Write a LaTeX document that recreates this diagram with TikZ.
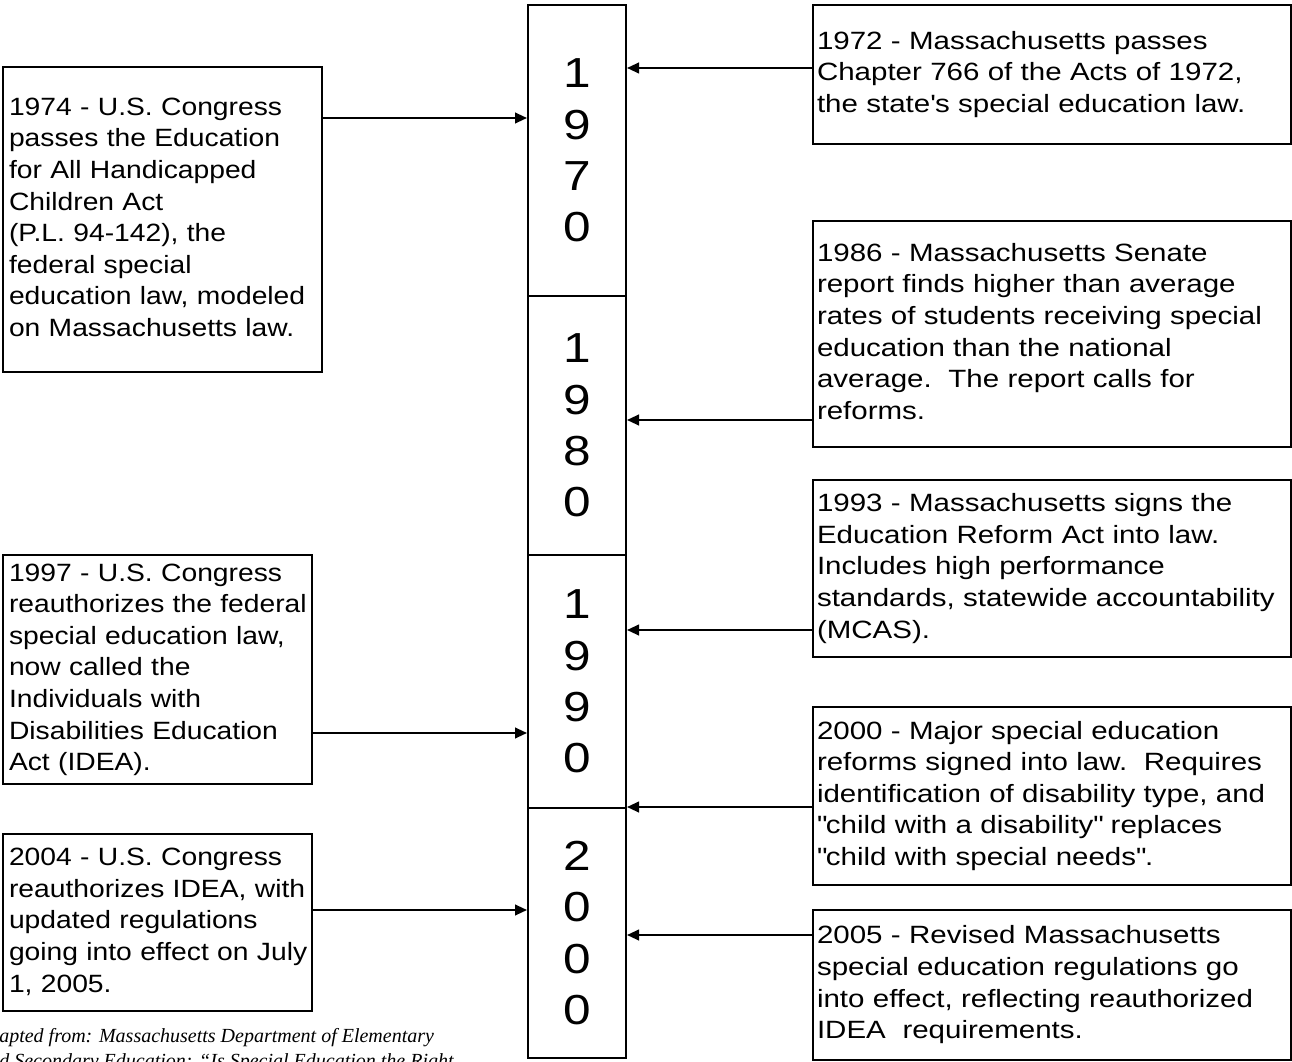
\documentclass[tikz,border=0pt]{standalone}
\usepackage{fontspec}
\setmainfont[FakeStretch=1.18]{Liberation Sans}
\newfontfamily\fedfont[FakeStretch=1.13]{Liberation Sans}
\newfontfamily\notefont{Liberation Serif}
\usetikzlibrary{arrows.meta}

\begin{document}
\begin{tikzpicture}
		[x=0.75pt,y=-0.75pt,
		decade/.style={draw,line width=1.5pt,minimum width=73.5pt,inner sep=0pt,
			align=center,font=\fontsize{31.5pt}{38.6pt}\selectfont},
		event/.style={draw,line width=1.5pt,inner ysep=0pt,align=left,
			font=\fontsize{18.75pt}{23.7pt}\selectfont},
		left event/.style={event,inner xsep=4.5pt,font=\fedfont\fontsize{18.75pt}{23.7pt}\selectfont},
		right event/.style={event,inner xsep=3pt,minimum width=358.5pt,text width=352.5pt},
		note/.style={anchor=base west,inner sep=0pt,
			font=\notefont\itshape\fontsize{15pt}{18pt}\selectfont},
		link/.style={line width=1.5pt,-{Triangle[length=9pt,width=8pt]}}
		]
		\useasboundingbox (0,0) rectangle (1292,1062);
		% the decades
		\node[decade,minimum height=218.25pt] (d1970) at (577,150.5) {1\\9\\7\\0};
		\node[decade,minimum height=194.25pt] (d1980) at (577,425.5) {1\\9\\8\\0};
		\node[decade,minimum height=189.75pt] (d1990) at (577,681.5) {1\\9\\9\\0};
		\node[decade,minimum height=187.5pt] (d2000) at (577,933) {2\\0\\0\\0};
		% federal events
		\node[left event,minimum width=239.25pt,text width=230.25pt,minimum height=228.75pt]
			(e1974) at (162.5,219.5) {\begin{tabular}{@{}l@{}}
				1974 - U.S. Congress\\
				passes the Education\\
				for All Handicapped\\
				Children Act\\
				(P.L. 94-142), the\\
				federal special\\
				education law, modeled\\
				on Massachusetts law.
			\end{tabular}};
		\node[left event,minimum width=231.75pt,text width=222.75pt,minimum height=171.75pt]
			(e1997) at (157.5,669.5) {\begin{tabular}{@{}l@{}}
				1997 - U.S. Congress\\
				reauthorizes the federal\\
				special education law,\\
				now called the\\
				Individuals with\\
				Disabilities Education\\
				Act (IDEA).
			\end{tabular}};
		\node[left event,minimum width=231.75pt,text width=222.75pt,minimum height=132.75pt]
			(e2004) at (157.5,922.5) {\begin{tabular}{@{}l@{}}
				2004 - U.S. Congress\\
				reauthorizes IDEA, with\\
				updated regulations\\
				going into effect on July\\
				1, 2005.
			\end{tabular}};
		% state events
		\node[right event,minimum height=104.25pt] (e1972) at (1052,74.5) {\begin{tabular}{@{}l@{}}
				1972 - Massachusetts passes\\
				Chapter 766 of the Acts of 1972,\\
				the state\textquotesingle s special education law.
			\end{tabular}};
		\node[right event,minimum height=169.5pt] (e1986) at (1052,334) {\begin{tabular}{@{}l@{}}
				1986 - Massachusetts Senate\\
				report finds higher than average\\
				rates of students receiving special\\
				education than the national\\
				average.\ \ The report calls for\\
				reforms.
			\end{tabular}};
		\node[right event,minimum height=132.75pt] (e1993) at (1052,568.5) {\begin{tabular}{@{}l@{}}
				1993 - Massachusetts signs the\\
				Education Reform Act into law.\\
				Includes high performance\\
				standards, statewide accountability\\
				(MCAS).
			\end{tabular}};
		\node[right event,minimum height=133.5pt] (e2000) at (1052,796) {\begin{tabular}{@{}l@{}}
				2000 - Major special education\\
				reforms signed into law.\ \ Requires\\
				identification of disability type, and\\
				\textquotedbl child with a disability\textquotedbl{} replaces\\
				\textquotedbl child with special needs\textquotedbl .
			\end{tabular}};
		\node[right event,minimum height=112.5pt] (e2005) at (1052,985) {\begin{tabular}{@{}l@{}}
				2005 - Revised Massachusetts\\
				special education regulations go\\
				into effect, reflecting reauthorized\\
				IDEA\ \ requirements.
			\end{tabular}};
		% source
		\node[note] (note1) at (-1,1042) {apted from: Massachusetts Department of Elementary};
		\node[note] (note2) at (-1,1067) {d Secondary Education: “Is Special Education the Right};
		% arrows into the timeline
		\coordinate (t1974) at (d1970.west |- 0,118);
		\coordinate (t1997) at (d1990.west |- 0,733);
		\coordinate (t2004) at (d2000.west |- 0,910);
		\coordinate (t1972) at (d1970.east |- 0,68);
		\coordinate (t1986) at (d1980.east |- 0,420);
		\coordinate (t1993) at (d1990.east |- 0,630);
		\coordinate (t2000) at (d2000.east |- 0,807);
		\coordinate (t2005) at (d2000.east |- 0,935);
		\draw[link] (e1974.east |- t1974) -- (t1974);
		\draw[link] (e1997.east |- t1997) -- (t1997);
		\draw[link] (e2004.east |- t2004) -- (t2004);
		\draw[link] (e1972.west |- t1972) -- (t1972);
		\draw[link] (e1986.west |- t1986) -- (t1986);
		\draw[link] (e1993.west |- t1993) -- (t1993);
		\draw[link] (e2000.west |- t2000) -- (t2000);
		\draw[link] (e2005.west |- t2005) -- (t2005);
	\end{tikzpicture}
\end{document}
